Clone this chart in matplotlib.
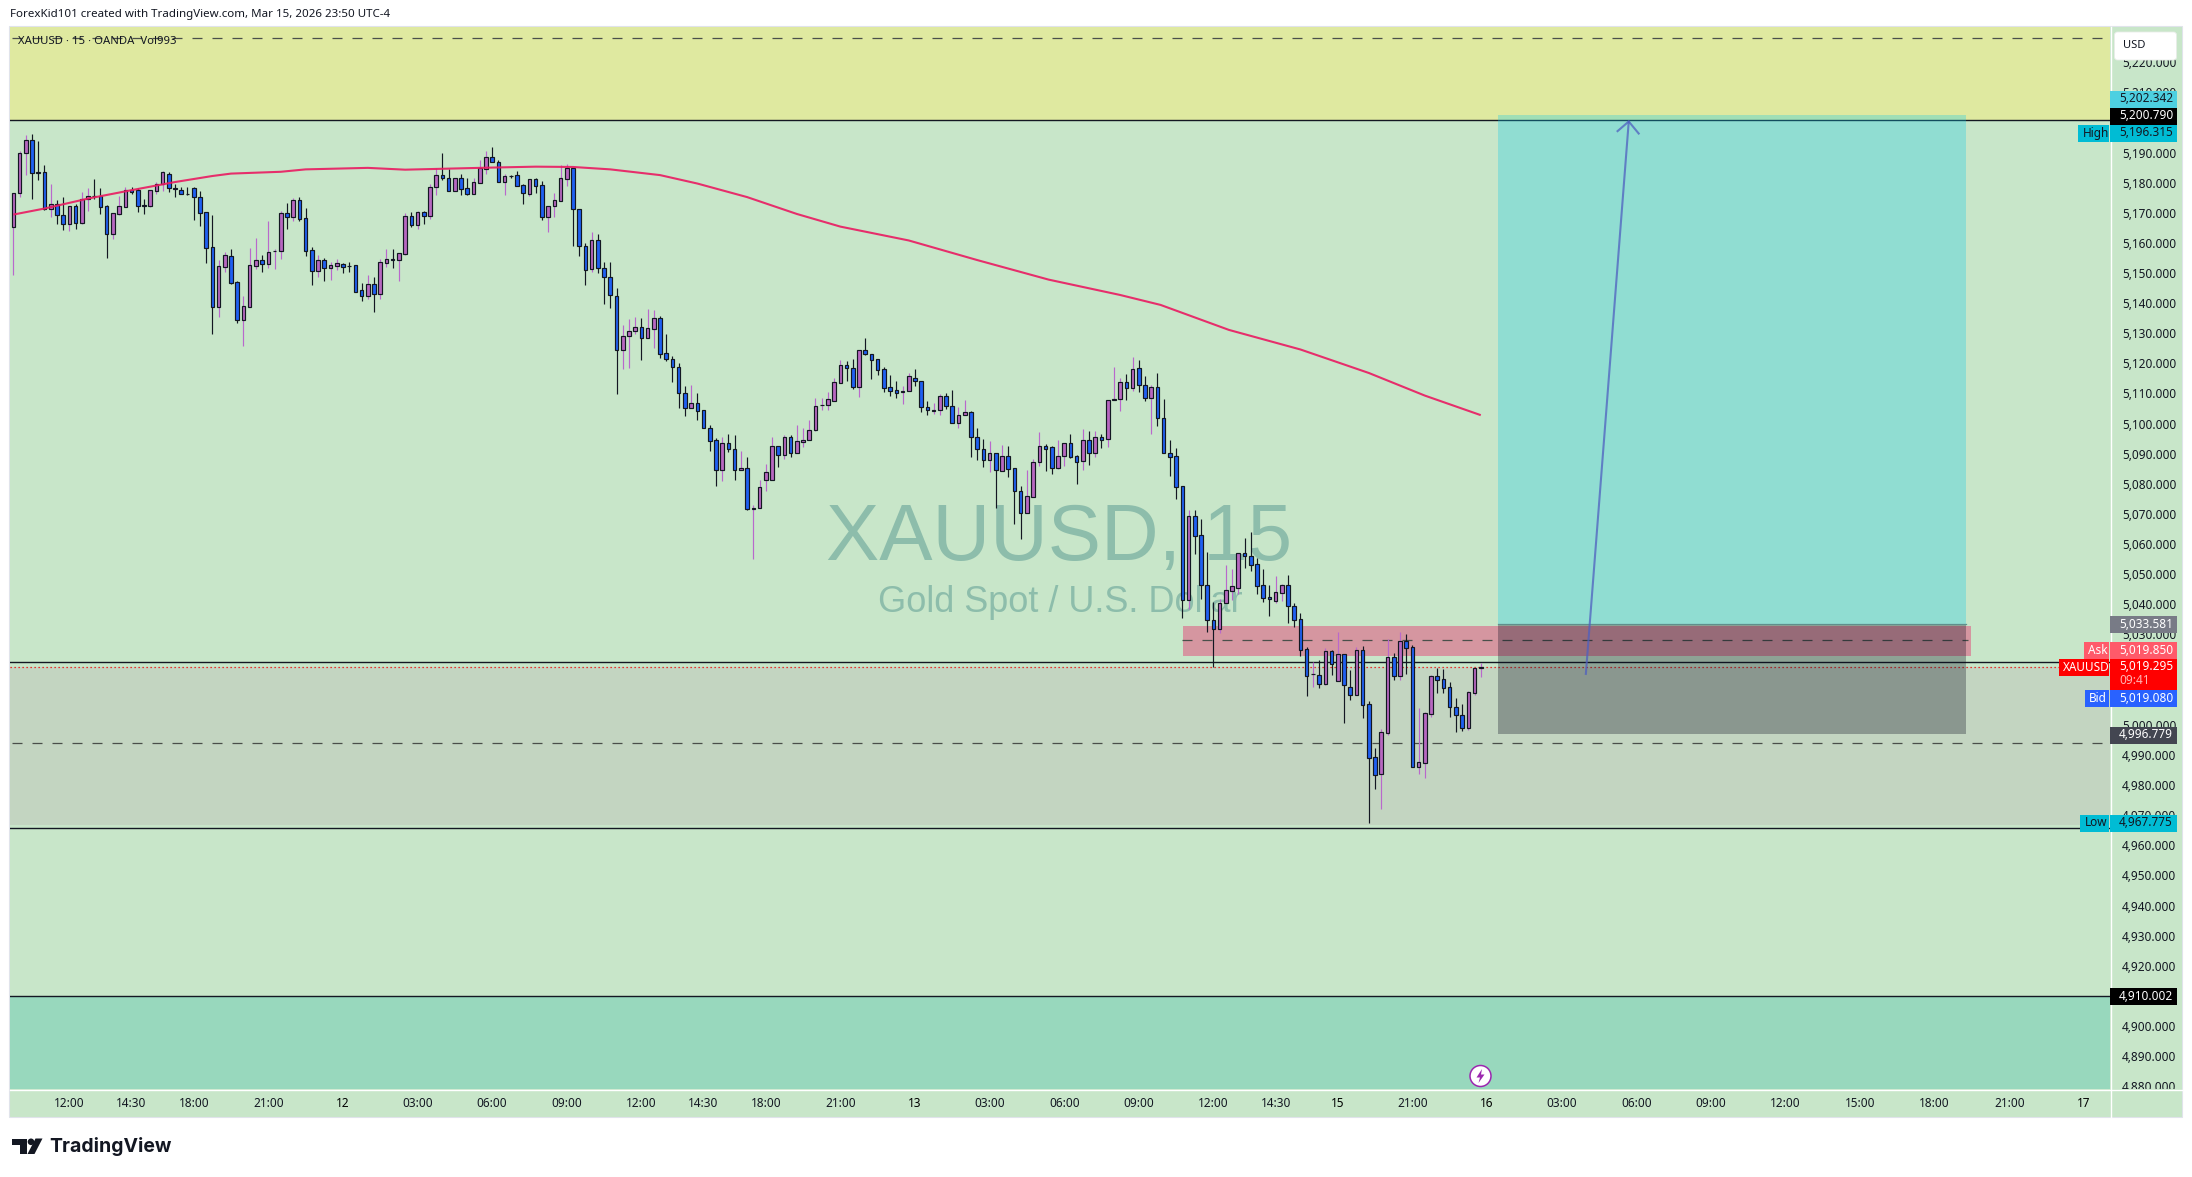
import matplotlib
matplotlib.use("Agg")
import matplotlib.pyplot as plt
from matplotlib.patches import Rectangle, Polygon, Ellipse, FancyBboxPatch
from matplotlib.transforms import Affine2D

W, H = 2192, 1177
FONT = "Noto Sans"

# ---------- data ----------
opens = [5165.3,5176.7,5190.0,5194.3,5183.4,5183.4,5171.1,5172.8,5169.1,5166.3,
5172.4,5166.7,5174.5,5175.7,5175.7,5172.1,5163.0,5169.7,5172.0,5177.7,
5177.5,5172.5,5172.3,5177.3,5179.7,5183.0,5178.1,5177.7,5176.3,5178.1,
5175.1,5170.1,5158.5,5138.8,5152.1,5155.8,5146.9,5134.4,5138.8,5152.4,
5154.2,5153.1,5157.3,5157.4,5169.8,5168.7,5174.1,5168.1,5157.5,5150.7,
5154.2,5151.7,5152.4,5153.1,5152.4,5152.5,5144.2,5142.4,5146.2,5143.1,
5153.4,5154.5,5154.4,5156.4,5168.8,5166.0,5170.1,5169.0,5178.6,5182.4,
5181.4,5177.3,5181.4,5178.1,5176.3,5180.0,5184.6,5188.4,5187.0,5180.3,
5182.2,5182.4,5179.1,5176.3,5181.1,5179.1,5168.7,5172.3,5174.0,5181.3,
5184.7,5171.1,5159.1,5151.4,5161.1,5151.8,5148.8,5142.5,5124.5,5129.1,
5130.8,5132.2,5128.5,5131.5,5134.9,5123.3,5121.6,5118.9,5110.3,5105.2,
5107.0,5104.4,5098.7,5094.4,5084.7,5093.4,5091.7,5084.7,5085.4,5071.8,
5072.0,5081.4,5081.4,5092.4,5089.7,5095.7,5090.3,5094.0,5094.6,5097.9,
5106.1,5106.2,5107.6,5113.6,5119.6,5118.6,5112.2,5124.3,5123.0,5121.3,
5118.0,5112.0,5111.0,5110.6,5110.7,5115.3,5114.3,5105.6,5104.3,5104.6,
5109.0,5106.0,5100.3,5102.9,5103.7,5095.7,5091.7,5088.0,5090.1,5084.3,
5089.1,5085.1,5077.7,5070.4,5075.7,5087.3,5092.7,5092.1,5085.3,5089.3,
5093.4,5089.1,5087.6,5094.7,5090.3,5095.4,5095.0,5107.7,5108.2,5113.7,
5111.9,5118.3,5112.7,5108.6,5112.0,5102.0,5090.1,5089.1,5079.2,5041.5,
5069.2,5062.9,5046.3,5034.7,5031.9,5040.5,5044.5,5045.5,5056.9,5056.2,
5053.3,5046.3,5042.3,5041.2,5043.9,5046.3,5039.6,5035.0,5025.0,5016.7,
5016.4,5013.6,5024.4,5014.6,5023.4,5012.4,5010.0,5024.7,5006.8,4989.2,
4983.7,4997.4,5022.4,5016.3,5027.7,5025.7,4986.1,4987.4,5003.7,5016.1,
5015.1,5012.7,5005.8,5003.4,4999.0,5010.7,5019.0]

closes = [5176.7,5190.0,5194.3,5183.3,5183.3,5171.1,5172.8,5169.3,5166.3,5172.4,
5166.7,5174.4,5175.7,5175.6,5172.0,5163.0,5169.8,5172.1,5177.7,5177.0,
5172.3,5172.4,5177.4,5179.7,5183.4,5178.1,5178.0,5176.3,5176.2,5175.3,
5170.0,5158.4,5138.8,5152.2,5156.1,5146.6,5134.4,5138.9,5152.5,5154.2,
5153.1,5157.1,5157.4,5169.8,5168.7,5174.1,5168.0,5157.4,5150.7,5154.2,
5151.7,5152.5,5153.2,5152.1,5152.3,5143.8,5142.4,5146.2,5143.1,5153.5,
5154.5,5154.4,5156.5,5168.8,5166.0,5170.1,5169.0,5178.7,5182.4,5181.6,
5177.3,5181.4,5178.0,5176.3,5180.1,5184.7,5188.4,5186.9,5180.3,5182.1,
5182.1,5179.0,5176.6,5181.1,5179.0,5168.7,5172.4,5174.1,5181.4,5184.7,
5171.1,5159.0,5151.1,5161.1,5151.7,5148.7,5142.7,5124.5,5129.2,5130.9,
5132.2,5128.5,5131.6,5134.9,5123.2,5121.5,5118.8,5110.2,5105.2,5107.0,
5104.2,5098.6,5094.3,5084.7,5093.4,5091.6,5084.7,5085.4,5071.7,5072.1,
5079.1,5083.8,5092.4,5089.6,5095.7,5090.4,5094.1,5094.7,5098.0,5105.7,
5106.3,5108.0,5113.7,5119.6,5118.5,5112.2,5124.3,5123.2,5121.2,5117.9,
5111.9,5110.9,5110.2,5110.7,5115.7,5114.3,5105.4,5104.4,5104.4,5109.0,
5105.7,5100.3,5103.0,5103.7,5095.6,5091.6,5088.0,5090.1,5084.7,5089.2,
5085.0,5077.7,5070.4,5076.1,5087.4,5092.4,5091.6,5085.3,5089.4,5093.4,
5089.0,5087.3,5094.7,5090.3,5095.4,5094.6,5107.7,5108.3,5113.7,5111.9,
5118.0,5112.9,5108.6,5112.0,5101.9,5090.3,5089.0,5079.0,5041.5,5069.2,
5062.8,5046.5,5034.7,5031.9,5040.6,5044.6,5046.0,5056.9,5056.1,5053.2,
5046.2,5042.2,5041.6,5044.0,5046.3,5039.5,5034.9,5024.9,5016.3,5016.8,
5013.6,5024.4,5020.3,5023.4,5013.3,5010.0,5024.7,5006.7,4989.1,4983.4,
4997.5,5022.4,5016.3,5027.7,5025.6,4986.1,4987.5,5003.8,5016.1,5015.0,
5012.3,5006.0,5003.3,4999.0,5010.8,5018.7,5019.3]

highs = [5176.7,5190.5,5195.8,5196.3,5193.8,5185.8,5179.7,5174.2,5175.2,5172.4,
5172.9,5176.8,5178.2,5181.2,5178.1,5172.5,5170.0,5175.5,5178.4,5178.4,
5178.2,5174.5,5177.7,5180.3,5183.8,5183.5,5179.5,5178.4,5178.4,5178.4,
5177.3,5170.1,5169.1,5154.3,5157.0,5157.8,5147.5,5142.3,5158.2,5161.6,
5155.9,5167.2,5158.0,5170.5,5173.1,5174.9,5175.1,5171.6,5158.6,5155.9,
5155.1,5153.5,5154.5,5153.4,5153.8,5152.5,5146.6,5149.3,5148.8,5154.6,
5157.9,5158.1,5156.5,5169.8,5170.4,5170.5,5170.5,5179.7,5185.0,5189.8,
5184.5,5181.7,5182.8,5181.4,5181.4,5187.5,5190.5,5191.8,5187.4,5183.0,
5182.5,5183.8,5179.7,5181.1,5181.7,5180.5,5172.4,5176.5,5185.7,5186.1,
5184.7,5171.3,5160.1,5163.6,5163.1,5153.8,5153.8,5145.0,5132.7,5134.7,
5135.3,5134.9,5137.9,5137.7,5135.7,5129.7,5122.6,5120.0,5112.4,5112.8,
5110.3,5104.4,5099.4,5095.1,5095.5,5096.7,5096.2,5090.9,5088.9,5072.9,
5081.2,5086.6,5095.5,5092.4,5096.2,5096.2,5099.5,5098.5,5101.2,5108.5,
5108.5,5110.4,5115.3,5121.1,5120.7,5121.6,5124.3,5128.4,5123.0,5121.6,
5118.8,5116.1,5114.1,5112.4,5116.7,5118.1,5114.3,5107.4,5106.7,5109.8,
5110.3,5111.1,5105.5,5107.8,5104.1,5098.5,5094.8,5094.2,5090.1,5092.8,
5092.5,5085.1,5079.2,5084.5,5088.2,5097.2,5093.1,5092.7,5094.5,5093.4,
5096.7,5089.5,5098.2,5097.5,5097.5,5096.5,5107.7,5118.8,5115.3,5116.4,
5122.1,5121.1,5115.8,5112.8,5116.8,5108.2,5094.5,5091.8,5079.2,5071.2,
5071.2,5068.2,5057.3,5040.8,5041.7,5053.0,5051.7,5056.9,5062.0,5064.0,
5055.3,5051.7,5046.3,5049.3,5046.7,5049.7,5040.3,5037.0,5025.7,5021.0,
5021.5,5025.4,5024.8,5030.8,5023.4,5018.2,5025.7,5026.0,5007.8,4992.2,
4998.6,5028.5,5023.7,5030.8,5030.1,5026.5,5005.5,5004.2,5016.5,5018.8,
5018.5,5014.2,5008.9,5006.9,5011.2,5018.7,5020.5]

lows = [5149.3,5175.3,5182.5,5174.5,5180.8,5170.9,5168.7,5166.4,5164.2,5163.9,
5164.6,5166.2,5170.5,5174.5,5169.5,5154.9,5161.2,5169.4,5171.8,5176.2,
5170.4,5169.5,5171.8,5176.2,5177.2,5176.8,5175.3,5176.1,5175.9,5167.6,
5165.6,5153.4,5129.7,5135.3,5150.3,5146.3,5133.4,5125.7,5138.8,5151.3,
5150.4,5151.7,5151.3,5154.6,5164.6,5167.3,5167.3,5155.6,5146.0,5148.6,
5147.3,5147.8,5151.0,5150.0,5150.4,5143.8,5140.6,5141.3,5137.0,5141.3,
5152.0,5151.7,5147.3,5155.9,5165.3,5164.6,5166.2,5167.9,5175.9,5180.8,
5177.3,5177.3,5175.9,5175.9,5176.2,5180.0,5182.8,5186.8,5180.3,5175.9,
5181.7,5178.8,5172.9,5175.5,5176.6,5167.6,5163.6,5168.5,5174.0,5178.8,
5158.9,5155.6,5146.0,5150.3,5150.1,5139.7,5138.3,5109.8,5118.1,5118.4,
5129.9,5121.1,5128.5,5125.0,5121.8,5120.7,5113.8,5105.1,5102.6,5105.2,
5101.1,5098.6,5090.9,5079.2,5080.9,5090.6,5081.2,5084.7,5071.4,5055.0,
5072.0,5077.6,5081.4,5085.5,5088.2,5088.9,5090.3,5092.2,5094.6,5097.6,
5104.5,5104.5,5107.6,5113.6,5114.1,5111.6,5108.8,5122.7,5114.8,5116.1,
5110.4,5109.1,5108.5,5106.5,5110.7,5112.4,5103.8,5102.8,5103.1,5102.8,
5104.9,5100.3,5098.5,5102.9,5088.9,5087.9,5085.5,5083.9,5071.9,5084.3,
5082.3,5066.6,5061.6,5070.4,5075.7,5085.9,5084.2,5083.2,5084.8,5085.9,
5088.6,5079.9,5084.6,5086.2,5088.9,5091.9,5092.2,5107.7,5104.2,5107.8,
5110.8,5110.4,5107.5,5096.5,5099.2,5090.3,5082.6,5074.9,5035.6,5038.3,
5056.7,5041.8,5030.9,5019.1,5030.5,5040.5,5041.4,5043.4,5052.0,5051.2,
5043.4,5040.8,5036.1,5040.4,5041.1,5033.8,5032.5,5022.8,5009.5,5012.5,
5012.2,5013.1,5016.5,5014.6,5000.6,5008.2,5010.0,5002.2,4967.4,4978.7,
4972.0,4996.7,5014.9,5014.9,5016.8,4986.1,4983.6,4982.3,5002.6,5010.5,
5010.5,5002.6,4997.6,4997.9,4998.2,5009.9,5015.9]

bars = list(range(1, len(opens) + 1))

ma_bars = [1,6,13,20,27,33,36,44,48,58,64,70,78,85,91,97,105,111,119,127,134,145,156,167.5,179,185.5,196.5,208,219,228,237]
ma_vals = [5169.4,5171.4,5174.7,5177.5,5180.2,5182.2,5183.0,5183.6,5184.4,5184.9,5184.3,5184.6,5185.0,5185.3,5185.2,5184.4,
           5182.5,5179.7,5175.2,5169.6,5165.4,5160.8,5154.3,5147.8,5142.7,5139.4,5131.1,5124.6,5116.8,5109.3,5102.8]

price_ticks = list(range(4880, 5221, 10))
time_ticks = [10,20,30,42,54,66,78,90,102,112,122,134,146,158,170,182,194,204,214,226,238,250,262,274,286,298,310,322,334]
time_labels = ["12:00","14:30","18:00","21:00","12","03:00","06:00","09:00","12:00","14:30","18:00","21:00","13",
               "03:00","06:00","09:00","12:00","14:30","15","21:00","16","03:00","06:00","09:00","12:00","15:00","18:00","21:00","17"]
date_labels = {"12", "13", "15", "16", "17"}

level_high = 5200.79
level_upper_dash = 5228.0
level_pivot = 5020.7
level_last = 5019.295
level_mid_dash = 4993.9
level_gray_bottom = 4966.7
level_low = 4965.7
level_floor = 4910.002
entry, target, stop = 5033.581, 5202.342, 4996.779
zone_top, zone_mid, zone_bot = 5032.8, 5028.0, 5022.8
pos_left, pos_right = 239.8, 315.1
zone_left, zone_right = 189.1, 315.9
arrow_x, arrow_y = [253.9, 260.8], [5016.9, 5200.3]
wing_x, wing_y = [259.0, 260.8, 262.4], [5197.1, 5200.3, 5196.3]

# ---------- layout ----------
BG = "#C8E6C9"
plt.rcParams["font.family"] = [FONT, "DejaVu Sans"]
fig = plt.figure(figsize=(W / 100, H / 100), dpi=100, facecolor="white")
PL, PR, PT, PB = 10, 2110, 27, 1089
def axrect(l, r, t, b):
    return [l / W, 1 - b / H, (r - l) / W, (b - t) / H]
tr = Affine2D().scale(1, -1).translate(0, H)  # reference pixels -> display

# chrome backing
fig.add_artist(Rectangle((9, 26), 2173, 1091, transform=tr, fc=BG, ec="#E0E3EB", lw=0.8, zorder=-5))

ax = fig.add_axes(axrect(PL, PR, PT, PB), facecolor=BG, zorder=2)
ax.set_xlim(0.453, 338.2)
ylim = (4879.08, 5231.67)
ax.set_ylim(*ylim)
for s in ax.spines.values():
    s.set_visible(False)
ax.yaxis.set_visible(False)
ax.set_xticks(time_ticks)
ax.set_xticklabels(time_labels)
ax.tick_params(axis="x", length=0, pad=6, labelsize=8.5, labelcolor="#131722")
for lab in ax.get_xticklabels():
    if lab.get_text() in date_labels:
        lab.set_fontweight("medium")
        lab.set_color("#000000")

# zones
ax.axhspan(level_high, ylim[1], fc="#DFE9A0", ec="none", zorder=1)
ax.axhspan(ylim[0], level_floor, fc="#98D8BD", ec="none", zorder=1)
ax.axhspan(level_gray_bottom, level_last, fc="#C3D5C1", ec="none", zorder=1)
ax.add_patch(Rectangle((zone_left, zone_bot), zone_right - zone_left, zone_top - zone_bot,
                       fc=(233/255, 30/255, 99/255, 0.4), ec="none", zorder=1.5))
# horizontal levels
for lv in (level_high, level_pivot, level_low, level_floor):
    ax.axhline(lv, color="#131722", lw=1.0, zorder=2)
ax.axhline(level_last, color="#F00000", lw=0.9, ls=(0, (1, 2.2)), zorder=2)
for lv in (level_upper_dash, level_mid_dash):
    ax.plot([0.8, 337.2], [lv, lv], color="#4A4F4A", lw=0.9, ls=(0, (8, 8)), zorder=2)
ax.plot([zone_left - 0.2, zone_right - 0.5], [zone_mid, zone_mid], color="#4A4F4A", lw=0.9, ls=(0, (8, 8)), zorder=2)

# watermark
wm = "#8DBDAB"
ax.text(1059, 560, "XAUUSD, 15", transform=tr, ha="center", va="baseline", color=wm,
        family="Liberation Sans", fontsize=57.5, zorder=2.2)
ax.text(1060, 611.7, "Gold Spot / U.S. Dollar", transform=tr, ha="center", va="baseline", color=wm,
        family="Liberation Sans", fontsize=26, zorder=2.2)

# candles
BLUE, PURPLE, EDGE = "#1F60F2", "#B768C0", "#131722"
up = [c >= o for o, c in zip(opens, closes)]
ax.vlines(bars, lows, highs, colors=["#B968CC" if u else EDGE for u in up], lw=0.85, zorder=3)
bottoms = [min(o, c) for o, c in zip(opens, closes)]
heights = [abs(c - o) for o, c in zip(opens, closes)]
ax.bar(bars, heights, bottom=bottoms, width=0.58, color=[PURPLE if u else BLUE for u in up],
       edgecolor=EDGE, linewidth=0.85, zorder=3.2)

# moving average
ax.plot(ma_bars, ma_vals, color="#E91E63", lw=1.5, alpha=0.92, zorder=4, solid_capstyle="butt")

# long position box
ax.add_patch(Rectangle((pos_left, entry), pos_right - pos_left, target - entry,
                       fc=(17/255, 203/255, 234/255, 0.3), ec="none", zorder=5))
ax.add_patch(Rectangle((pos_left, stop), pos_right - pos_left, entry - stop,
                       fc=(8/255, 10/255, 30/255, 0.3), ec="none", zorder=5))
ax.plot([pos_left, pos_right], [entry, entry], color="#5F8F8C", lw=0.9, zorder=5.1)

# arrow
ax.plot(arrow_x, arrow_y, color="#4F60C0", lw=1.5, alpha=0.75, zorder=6)
ax.plot(wing_x, wing_y, color="#4F60C0", lw=1.5, alpha=0.75, zorder=6)

# price scale
axs = fig.add_axes(axrect(PR + 1, 2182, PT, PB), facecolor=BG, zorder=1, sharey=ax)
axs.set_xlim(0, 71)
for s in axs.spines.values():
    s.set_visible(False)
axs.set_xticks([])
axs.yaxis.set_visible(True)
axs.set_yticks(price_ticks)
axs.set_yticklabels([f"{p:,.3f}" for p in price_ticks])
axs.tick_params(axis="y", length=0, pad=-8, labelsize=8.5, labelcolor="#131722", left=False, labelleft=True)
for lab in axs.get_yticklabels():
    lab.set_ha("left")
    lab.set_va("center_baseline")
    lab.set_clip_on(True)
    lab.set_clip_box(axs.bbox)
axs.set_ylim(*ylim)

# tags drawn in reference pixels
def tag(x0, x1, y0, y1, color, label, tc="white", weight="normal", tx=None, cy=None, fs=8.5):
    fig.add_artist(Rectangle((x0, y0), x1 - x0, y1 - y0, transform=tr, fc=color, ec="none", zorder=10))
    fig.add_artist(plt.Text(tx if tx is not None else x0 + 8, cy if cy is not None else (y0 + y1) / 2 - 0.5,
                            label, transform=tr, color=tc, ha="left", va="center", fontsize=fs,
                            fontweight=weight, zorder=11, family=FONT))

TX = 2119
tag(2110, 2177, 91, 107.5, "#4DD0E1", "5,202.342", "#131722", tx=TX)
tag(2110, 2177, 107.5, 125, "#000000", "5,200.790", "white", "bold", tx=TX)
tag(2110, 2177, 125, 142, "#00BCD4", "5,196.315", "#131722", tx=TX)
tag(2078, 2109, 125, 142, "#00BCD4", "High", "#131722", tx=2083)
tag(2110, 2177, 616, 633, "#787B86", "5,033.581", "white", tx=TX)
tag(2110, 2177, 642, 659.3, "#FF5A6A", "5,019.850", "white", tx=TX)
tag(2084, 2109, 642, 659.3, "#FF5A6A", "Ask", "white", tx=2088)
tag(2110, 2177, 659.3, 690, "#FF0000", "5,019.295", "white", tx=TX, cy=667)
fig.add_artist(plt.Text(TX, 681, "09:41", transform=tr, color="#FFB3B3", ha="left", va="center",
                        fontsize=8.5, zorder=11, family=FONT))
tag(2059, 2109, 659.3, 676, "#FF0000", "XAUUSD", "white", tx=2063)
tag(2110, 2177, 690, 707, "#2962FF", "5,019.080", "white", tx=TX)
tag(2085, 2109, 690, 707, "#2962FF", "Bid", "white", tx=2089)
tag(2110, 2177, 727, 743.7, "#434651", "4,996.779", "white", tx=TX)
tag(2110, 2177, 815, 832, "#00BCD4", "4,967.775", "#131722", tx=TX)
tag(2080, 2109, 815, 832, "#00BCD4", "Low", "#131722", tx=2085)
tag(2110, 2177, 988, 1005, "#000000", "4,910.002", "white", "bold", tx=TX)

# currency button
fig.add_artist(FancyBboxPatch((2116, 33.5), 59, 25, boxstyle="round,pad=1.5,rounding_size=3", transform=tr,
                              fc="white", ec="#E8EDE8", lw=0.6, zorder=10))
fig.add_artist(plt.Text(2123, 45, "USD", transform=tr, color="#131722", ha="left", va="center",
                        fontsize=8, zorder=11, family=FONT))

# separators
fig.add_artist(plt.Line2D([2110.5, 2110.5], [27, 1117], transform=tr, color="white", lw=1, zorder=9))
fig.add_artist(plt.Line2D([10, 2182], [1089.5, 1089.5], transform=tr, color="white", lw=1, zorder=9))

# header / legend
fig.add_artist(plt.Text(10, 14.5, "ForexKid101 created with TradingView.com, Mar 15, 2026 23:50 UTC-4", transform=tr,
                        color="#131722", ha="left", va="center", fontsize=8.3, family=FONT, zorder=11))
fig.add_artist(plt.Text(18, 42, "XAUUSD · 15 · OANDA  Vol993", transform=tr, color="#131722", ha="left", va="center",
                        fontsize=8.15, family=FONT, zorder=11))

# earnings / lightning marker
fig.add_artist(Ellipse((1480.5, 1076), 21, 21, transform=tr, fc="white", ec="#9C27B0", lw=1.1, zorder=11))
fig.add_artist(Polygon([(1482, 1069), (1476.5, 1077.5), (1480, 1077.5), (1478.5, 1083), (1484.5, 1074.5), (1481, 1074.5)],
                       closed=True, transform=tr, fc="#9C27B0", ec="none", zorder=12))

# brand mark
k = "#131722"
fig.add_artist(Polygon([(12, 1138.5), (27, 1138.5), (27, 1154), (20, 1154), (20, 1145), (12, 1145)], closed=True, transform=tr, fc=k, ec="none"))
fig.add_artist(Ellipse((31, 1141.8), 6.6, 6.6, transform=tr, fc=k, ec="none"))
fig.add_artist(Polygon([(35.5, 1138.5), (42.5, 1138.5), (34.5, 1154), (27.5, 1154)], closed=True, transform=tr, fc=k, ec="none"))
fig.add_artist(plt.Text(49, 1146.5, "TradingView", transform=tr, color=k, ha="left", va="center",
                        fontsize=14, fontweight="bold", family="Inter", zorder=11))

fig.savefig("out.png", dpi=100, facecolor="white")
